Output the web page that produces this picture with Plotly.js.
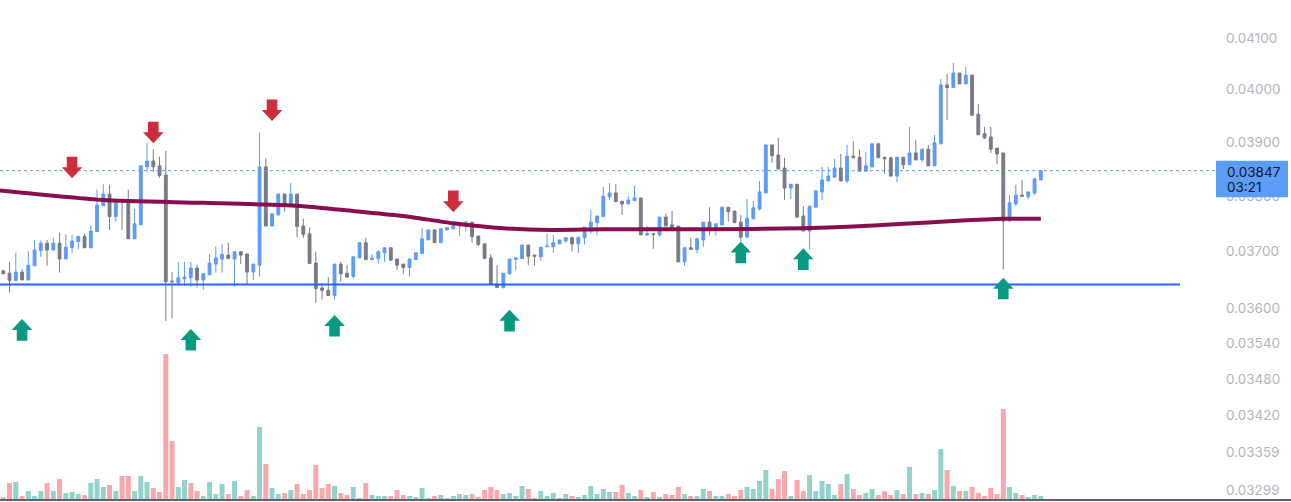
<!DOCTYPE html>
<html>
<head>
<meta charset="utf-8">
<script src="https://cdn.plot.ly/plotly-3.0.1.min.js"></script>
<style>
html,body{margin:0;padding:0;background:#ffffff;}
#chart{width:1291px;height:502px;}
</style>
</head>
<body>
<div id="chart"></div>
<script>
// ---- OHLC data ----
const openP = [0.03666,0.03662,0.03649,0.03664,0.03650,0.03675,0.03702,0.03715,0.03703,0.03715,
0.03687,0.03707,0.03718,0.03727,0.03707,0.03736,0.03783,0.03804,0.03763,0.03793,
0.03792,0.03723,0.03748,0.03854,0.03865,0.03856,0.03839,0.03648,0.03645,0.03652,
0.03654,0.03671,0.03650,0.03659,0.03678,0.03687,0.03694,0.03687,0.03700,0.03696,
0.03664,0.03676,0.03854,0.03746,0.03766,0.03804,0.03786,0.03804,0.03746,0.03732,
0.03680,0.03636,0.03632,0.03623,0.03678,0.03662,0.03656,0.03689,0.03716,0.03686,
0.03688,0.03698,0.03707,0.03687,0.03678,0.03672,0.03686,0.03697,0.03721,0.03739,
0.03716,0.03739,0.03741,0.03746,0.03746,0.03753,0.03728,0.03714,0.03689,0.03643,
0.03637,0.03661,0.03686,0.03688,0.03712,0.03694,0.03691,0.03709,0.03709,0.03714,
0.03719,0.03725,0.03714,0.03725,0.03743,0.03752,0.03763,0.03799,0.03806,0.03791,
0.03786,0.03792,0.03797,0.03730,0.03732,0.03730,0.03762,0.03748,0.03746,0.03682,
0.03707,0.03704,0.03721,0.03753,0.03743,0.03748,0.03780,0.03773,0.03753,0.03726,
0.03759,0.03777,0.03806,0.03895,0.03876,0.03852,0.03815,0.03822,0.03764,0.03737,
0.03780,0.03808,0.03828,0.03835,0.03852,0.03828,0.03874,0.03872,0.03846,0.03854,
0.03897,0.03872,0.03871,0.03837,0.03872,0.03858,0.03880,0.03867,0.03887,0.03856,
0.03897,0.04009,0.04004,0.04032,0.04011,0.04028,0.03953,0.03916,0.03910,0.03889,
0.03880,0.03755,0.03786,0.03802,0.03799,0.03806,0.03830];

const highP = [0.03668,0.03682,0.03698,0.03669,0.03701,0.03721,0.03720,0.03721,0.03725,0.03734,
0.03731,0.03730,0.03729,0.03732,0.03747,0.03812,0.03822,0.03821,0.03795,0.03793,
0.03812,0.03777,0.03856,0.03899,0.03887,0.03873,0.03884,0.03664,0.03682,0.03682,
0.03682,0.03677,0.03661,0.03696,0.03709,0.03714,0.03716,0.03700,0.03700,0.03696,
0.03678,0.03918,0.03870,0.03768,0.03804,0.03804,0.03824,0.03804,0.03759,0.03743,
0.03700,0.03644,0.03655,0.03678,0.03682,0.03676,0.03691,0.03716,0.03725,0.03696,
0.03703,0.03707,0.03708,0.03687,0.03678,0.03687,0.03698,0.03743,0.03739,0.03739,
0.03741,0.03743,0.03751,0.03748,0.03755,0.03753,0.03728,0.03714,0.03696,0.03676,
0.03662,0.03687,0.03689,0.03712,0.03712,0.03694,0.03708,0.03732,0.03730,0.03721,
0.03725,0.03727,0.03726,0.03744,0.03775,0.03764,0.03817,0.03824,0.03822,0.03791,
0.03800,0.03819,0.03797,0.03746,0.03734,0.03762,0.03768,0.03773,0.03746,0.03707,
0.03725,0.03725,0.03753,0.03780,0.03750,0.03780,0.03780,0.03773,0.03766,0.03795,
0.03791,0.03828,0.03895,0.03895,0.03908,0.03871,0.03822,0.03822,0.03782,0.03782,
0.03810,0.03854,0.03854,0.03869,0.03878,0.03895,0.03902,0.03887,0.03882,0.03899,
0.03899,0.03872,0.03872,0.03872,0.03872,0.03929,0.03904,0.03887,0.03895,0.03914,
0.04020,0.04030,0.04052,0.04032,0.04044,0.04028,0.03972,0.03929,0.03929,0.03889,
0.03880,0.03802,0.03821,0.03830,0.03808,0.03832,0.03847];

const lowP = [0.03660,0.03628,0.03649,0.03650,0.03650,0.03675,0.03691,0.03675,0.03703,0.03663,
0.03687,0.03697,0.03705,0.03707,0.03707,0.03736,0.03783,0.03739,0.03754,0.03739,
0.03723,0.03723,0.03748,0.03845,0.03845,0.03834,0.03579,0.03583,0.03641,0.03640,
0.03638,0.03637,0.03633,0.03659,0.03663,0.03663,0.03688,0.03638,0.03678,0.03643,
0.03650,0.03656,0.03746,0.03746,0.03766,0.03772,0.03786,0.03726,0.03725,0.03679,
0.03610,0.03616,0.03623,0.03616,0.03647,0.03655,0.03652,0.03689,0.03686,0.03686,
0.03679,0.03682,0.03685,0.03668,0.03661,0.03656,0.03686,0.03697,0.03721,0.03716,
0.03716,0.03739,0.03741,0.03728,0.03736,0.03716,0.03710,0.03688,0.03642,0.03637,
0.03635,0.03659,0.03668,0.03688,0.03676,0.03675,0.03684,0.03709,0.03698,0.03714,
0.03716,0.03700,0.03698,0.03713,0.03732,0.03729,0.03763,0.03793,0.03790,0.03766,
0.03786,0.03792,0.03730,0.03728,0.03705,0.03727,0.03746,0.03744,0.03682,0.03675,
0.03704,0.03697,0.03709,0.03729,0.03729,0.03748,0.03754,0.03752,0.03719,0.03726,
0.03759,0.03774,0.03806,0.03862,0.03850,0.03793,0.03795,0.03762,0.03737,0.03704,
0.03780,0.03793,0.03828,0.03835,0.03828,0.03824,0.03871,0.03846,0.03846,0.03854,
0.03871,0.03841,0.03837,0.03826,0.03850,0.03858,0.03867,0.03863,0.03856,0.03856,
0.03897,0.03942,0.04004,0.04011,0.04011,0.03951,0.03914,0.03906,0.03880,0.03859,
0.03669,0.03755,0.03782,0.03800,0.03795,0.03802,0.03830];

const closeP = [0.03661,0.03649,0.03664,0.03650,0.03676,0.03703,0.03715,0.03703,0.03715,0.03687,
0.03708,0.03719,0.03727,0.03707,0.03737,0.03784,0.03804,0.03763,0.03793,0.03791,
0.03723,0.03750,0.03856,0.03865,0.03854,0.03838,0.03647,0.03647,0.03654,0.03655,
0.03671,0.03650,0.03661,0.03680,0.03689,0.03695,0.03688,0.03700,0.03694,0.03664,
0.03678,0.03854,0.03746,0.03768,0.03804,0.03786,0.03804,0.03745,0.03731,0.03679,
0.03635,0.03632,0.03623,0.03678,0.03661,0.03655,0.03691,0.03716,0.03686,0.03689,
0.03700,0.03707,0.03685,0.03676,0.03672,0.03687,0.03698,0.03723,0.03739,0.03716,
0.03741,0.03743,0.03747,0.03747,0.03753,0.03727,0.03713,0.03688,0.03642,0.03637,
0.03662,0.03687,0.03689,0.03712,0.03692,0.03692,0.03708,0.03710,0.03716,0.03721,
0.03725,0.03714,0.03726,0.03744,0.03753,0.03764,0.03800,0.03806,0.03790,0.03786,
0.03793,0.03797,0.03730,0.03732,0.03731,0.03762,0.03746,0.03744,0.03682,0.03707,
0.03704,0.03723,0.03753,0.03743,0.03750,0.03780,0.03772,0.03752,0.03726,0.03760,
0.03779,0.03808,0.03895,0.03875,0.03850,0.03815,0.03822,0.03762,0.03737,0.03782,
0.03810,0.03830,0.03837,0.03852,0.03828,0.03874,0.03871,0.03846,0.03856,0.03897,
0.03871,0.03869,0.03837,0.03872,0.03858,0.03880,0.03867,0.03887,0.03856,0.03899,
0.04009,0.04004,0.04032,0.04011,0.04028,0.03951,0.03914,0.03908,0.03887,0.03878,
0.03755,0.03788,0.03802,0.03800,0.03808,0.03832,0.03847];

// ---- Volume (relative units) and its colour direction ----
const volume = [2,16,17,3,8,3,8,16,8,20,
6,7,5,4,16,20,12,14,8,23,
23,8,23,17,11,7,145,58,12,19,
16,8,3,17,5,15,5,18,3,9,
3,72,35,11,5,6,9,15,5,9,
34,11,15,13,6,4,12,1,16,4,
3,3,3,9,4,3,2,11,1,3,
4,1,3,5,4,5,2,9,12,9,
5,6,3,13,10,1,8,3,6,1,
5,3,2,4,13,5,10,7,7,14,
6,3,9,2,7,2,5,4,12,5,
3,3,10,8,3,3,5,3,9,12,
10,18,29,10,20,28,3,19,8,24,
8,18,15,4,15,25,10,4,6,10,
4,8,4,9,5,32,5,6,5,9,
50,29,13,8,8,12,6,3,11,5,
90,12,6,4,2,4,3];
const volumeDir = ['d','d','u','d','u','u','u','d','u','d',
'u','u','u','d','u','u','u','d','u','d',
'd','u','u','u','d','d','d','d','u','u',
'd','d','u','u','u','u','d','u','d','d',
'u','u','d','u','u','d','u','d','d','d',
'd','d','d','u','d','d','u','u','d','u',
'u','u','d','d','d','u','u','u','u','d',
'u','u','u','u','u','d','d','d','d','d',
'u','u','u','u','d','d','u','u','u','u',
'u','d','u','u','u','u','u','u','d','d',
'u','u','d','u','d','u','d','d','d','u',
'd','u','u','d','u','u','d','d','d','u',
'u','u','u','d','d','d','u','d','d','u',
'u','u','u','u','d','u','d','d','u','u',
'd','d','d','u','d','u','d','u','d','u',
'u','d','u','d','u','d','d','d','d','d',
'd','u','u','d','u','u','u'];

// ---- Moving average (sampled at candle indices) ----
const maIndex = [-1,16,32,48,56,64,72,80,88,96,112,128,136,144,152,160,166];
const maValue = [0.03811,0.03793,0.03788,0.03782,0.03773,0.03764,0.03751,0.03742,0.03739,0.03740,0.03740,0.03742,0.03745,0.03750,0.03755,0.03759,0.03759];

// ---- Signals ----
const sellIndex = [11,24,43,72];
const sellPrice = [0.03833,0.03898,0.03940,0.03771];
const buyIndex = [3,30,53,81,118,128,160];
const buyPrice = [0.03582,0.03565,0.03589,0.03598,0.03718,0.03706,0.03654];

// ---- Levels & axis ticks ----
const supportLevel = 0.03642;
const priceTicks = [0.04100,0.04000,0.03900,0.03800,0.03700,0.03600,0.03540,0.03480,0.03420,0.03359,0.03299];
const lastTimeLabel = '03:21';

const idx = openP.map((_, i) => i);
const lastClose = closeP[closeP.length - 1];

const Y_RANGE = [-1.484086, -1.379219];
const PLOT_H = 502, PLOT_W = 1216;
const lastPaper = (Math.log10(lastClose) - Y_RANGE[0]) / (Y_RANGE[1] - Y_RANGE[0]);

const BLUE = '#5b9cf6', GRAY = '#787b86';
const traces = [
  {
    type: 'bar', x: idx, y: volume, yaxis: 'y2',
    marker: { color: volumeDir.map(d => d === 'u' ? 'rgba(38,166,154,0.5)' : 'rgba(242,80,86,0.5)'), line: { width: 0 } },
    hoverinfo: 'skip'
  },
  {
    type: 'candlestick', x: idx, open: openP, high: highP, low: lowP, close: closeP,
    increasing: { line: { color: BLUE, width: 1 }, fillcolor: BLUE },
    decreasing: { line: { color: GRAY, width: 1 }, fillcolor: GRAY },
    whiskerwidth: 0, hoverinfo: 'skip'
  },
  {
    type: 'scatter', mode: 'lines', x: maIndex, y: maValue,
    line: { color: '#880e4f', width: 4, shape: 'spline', smoothing: 0.6 },
    hoverinfo: 'skip'
  }
];

const downPath = 'M0,0L-10.3,11L-5.3,11L-5.3,21.6L5.3,21.6L5.3,11L10.3,11Z';
const upPath = 'M0,0L-10.3,-11L-5.3,-11L-5.3,-21.6L5.3,-21.6L5.3,-11L10.3,-11Z';

const shapes = [];
shapes.push({ type: 'line', xref: 'paper', yref: 'y', x0: 0, x1: 1180 / PLOT_W, y0: supportLevel, y1: supportLevel,
  line: { color: '#2962ff', width: 2 } });
shapes.push({ type: 'line', xref: 'paper', yref: 'y', x0: 0, x1: 1, y0: lastClose, y1: lastClose,
  line: { color: BLUE, width: 1, dash: 'dot' } });
sellIndex.forEach((k, j) => shapes.push({ type: 'path', xref: 'x', yref: 'y', xsizemode: 'pixel', ysizemode: 'pixel',
  xanchor: k, yanchor: sellPrice[j], path: downPath, fillcolor: '#cc2e3c', line: { width: 0 } }));
buyIndex.forEach((k, j) => shapes.push({ type: 'path', xref: 'x', yref: 'y', xsizemode: 'pixel', ysizemode: 'pixel',
  xanchor: k, yanchor: buyPrice[j], path: upPath, fillcolor: '#089981', line: { width: 0 } }));
// price label box (right scale)
shapes.push({ type: 'rect', xref: 'paper', yref: 'paper',
  x0: 1, x1: 1 + 72 / PLOT_W, y0: lastPaper + 10 / PLOT_H, y1: lastPaper - 26.5 / PLOT_H,
  fillcolor: BLUE, line: { width: 0 }, layer: 'above' });
// bottom border line
shapes.push({ type: 'line', xref: 'paper', yref: 'paper', x0: 0, x1: 1291 / PLOT_W, y0: 1 - 500 / PLOT_H, y1: 1 - 500 / PLOT_H,
  line: { color: '#2a2e39', width: 1.5 } });

const FONT = 'Inter, Roboto, "Noto Sans", sans-serif';
const annotations = [
  { xref: 'paper', yref: 'paper', x: 1, y: lastPaper, xanchor: 'left', yanchor: 'middle', xshift: 9, yshift: -1,
    text: lastClose.toFixed(5), showarrow: false, font: { family: FONT, size: 13.5, color: '#131722' } },
  { xref: 'paper', yref: 'paper', x: 1, y: lastPaper, xanchor: 'left', yanchor: 'middle', xshift: 9, yshift: -16,
    text: lastTimeLabel, showarrow: false, font: { family: FONT, size: 13.5, color: '#131722' } }
];

const layout = {
  width: 1291, height: 502,
  margin: { l: 0, r: 75, t: 0, b: 0, pad: 0 },
  paper_bgcolor: '#ffffff', plot_bgcolor: '#ffffff',
  showlegend: false, hovermode: false, dragmode: false,
  bargap: 0.2, boxgap: 0.35,
  xaxis: { range: [-0.528, 194.03], visible: false, rangeslider: { visible: false }, fixedrange: true },
  yaxis: {
    type: 'log', range: Y_RANGE, side: 'right',
    tickvals: priceTicks, ticktext: priceTicks.map(v => v.toFixed(5)),
    showgrid: false, zeroline: false, showline: false, ticks: '', ticklabelstandoff: 9,
    tickfont: { family: FONT, size: 13.5, color: '#b2b5be' }, automargin: false, fixedrange: true
  },
  yaxis2: { overlaying: 'y', range: [-3, 499], visible: false, fixedrange: true },
  shapes: shapes,
  annotations: annotations,
  font: { family: FONT }
};

Plotly.newPlot('chart', traces, layout, { staticPlot: true, displayModeBar: false });
</script>
</body>
</html>
